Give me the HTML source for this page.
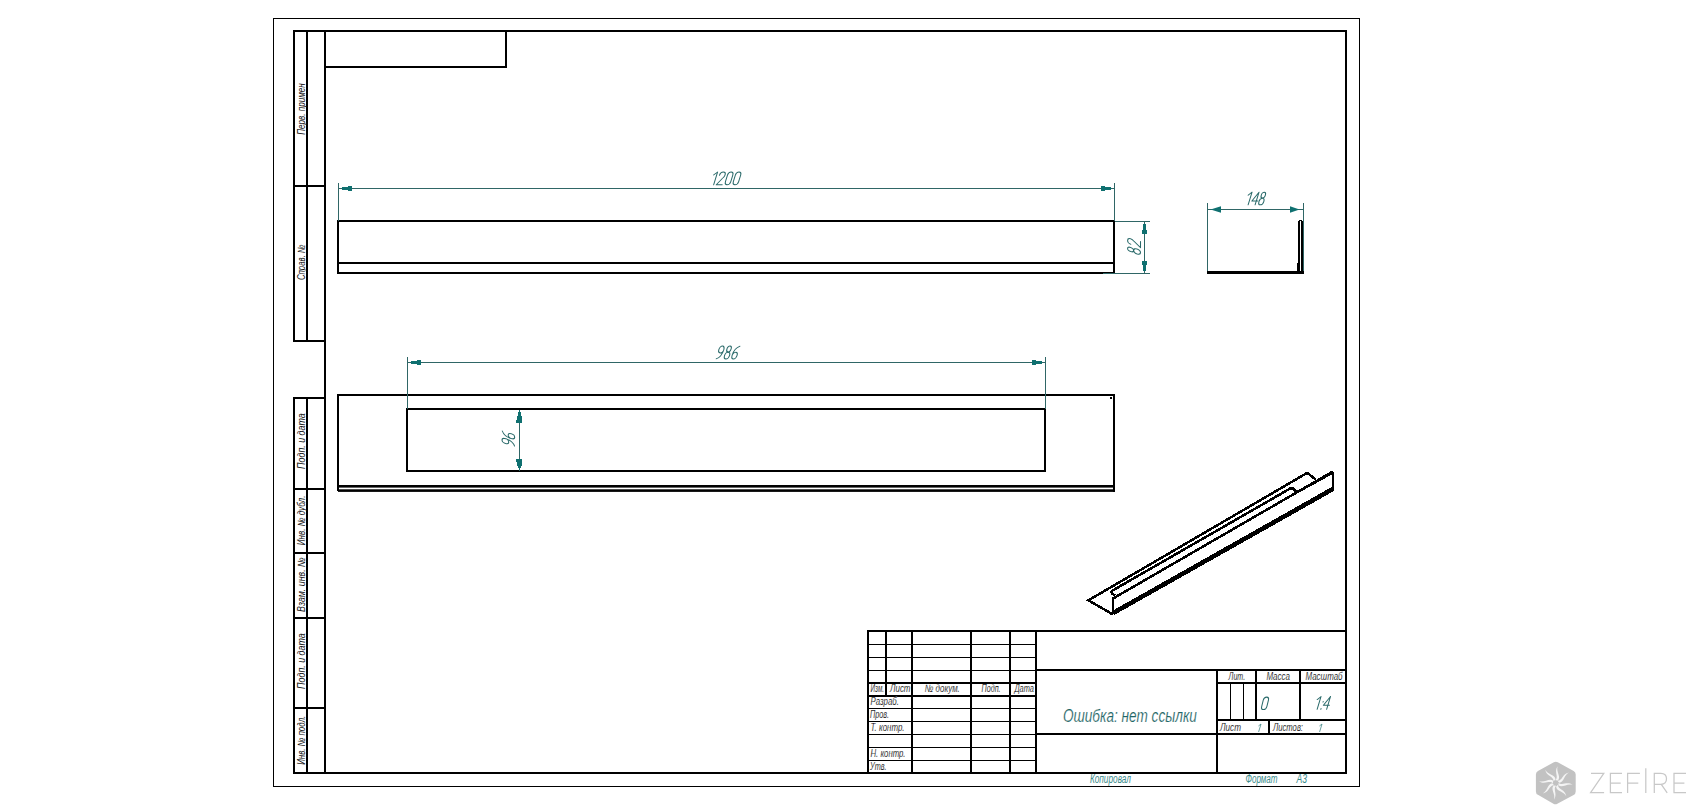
<!DOCTYPE html>
<html><head><meta charset="utf-8"><style>
html,body{margin:0;padding:0;background:#fff;width:1691px;height:810px;overflow:hidden}
svg{display:block}
text{font-family:"Liberation Sans",sans-serif;font-style:italic;stroke:#fff;stroke-width:0.15px}
text.r{stroke:none;fill:#111}
text.s{stroke:none}
</style></head><body>
<svg width="1691" height="810" viewBox="0 0 1691 810">
<g shape-rendering="crispEdges">
<rect x="273" y="18" width="1087" height="1" fill="#000"/>
<rect x="273" y="786" width="1087" height="1" fill="#000"/>
<rect x="273" y="18" width="1" height="769" fill="#000"/>
<rect x="1359" y="18" width="1" height="769" fill="#000"/>
<rect x="293" y="30" width="1054" height="2" fill="#000"/>
<rect x="293" y="772" width="1054" height="2" fill="#000"/>
<rect x="324" y="30" width="2" height="744" fill="#000"/>
<rect x="1345" y="30" width="2" height="744" fill="#000"/>
<rect x="293" y="30" width="2" height="312" fill="#000"/>
<rect x="306" y="30" width="2" height="312" fill="#000"/>
<rect x="293" y="185" width="33" height="2" fill="#000"/>
<rect x="293" y="340" width="33" height="2" fill="#000"/>
<rect x="293" y="397" width="2" height="377" fill="#000"/>
<rect x="306" y="397" width="2" height="377" fill="#000"/>
<rect x="293" y="397" width="33" height="2" fill="#000"/>
<rect x="293" y="488" width="33" height="2" fill="#000"/>
<rect x="293" y="552" width="33" height="2" fill="#000"/>
<rect x="293" y="617" width="33" height="2" fill="#000"/>
<rect x="293" y="707" width="33" height="2" fill="#000"/>
<rect x="505" y="30" width="2" height="38" fill="#000"/>
<rect x="324" y="66" width="183" height="2" fill="#000"/>
<rect x="337" y="220" width="778" height="2" fill="#000"/>
<rect x="337" y="262" width="778" height="2" fill="#000"/>
<rect x="337" y="272" width="778" height="2" fill="#000"/>
<rect x="337" y="220" width="2" height="54" fill="#000"/>
<rect x="1113" y="220" width="2" height="54" fill="#000"/>
<rect x="338" y="183" width="1" height="38" fill="#2f6666"/>
<rect x="1114" y="183" width="1" height="38" fill="#2f6666"/>
<rect x="338" y="188" width="777" height="1" fill="#2f6666"/>
<rect x="342" y="187" width="6" height="3" fill="#0f7070"/>
<rect x="348" y="186" width="4" height="5" fill="#0f7070"/>
<rect x="1105" y="187" width="6" height="3" fill="#0f7070"/>
<rect x="1101" y="186" width="4" height="5" fill="#0f7070"/>
<rect x="1115" y="221" width="35" height="1" fill="#2f6666"/>
<rect x="1103" y="273" width="47" height="1" fill="#2f6666"/>
<rect x="1144" y="221" width="1" height="53" fill="#2f6666"/>
<rect x="1143" y="224" width="3" height="6" fill="#0f7070"/>
<rect x="1142" y="230" width="5" height="4" fill="#0f7070"/>
<rect x="1142" y="261" width="5" height="4" fill="#0f7070"/>
<rect x="1143" y="265" width="3" height="6" fill="#0f7070"/>
<rect x="1207" y="203" width="1" height="70" fill="#2f6666"/>
<rect x="1303" y="203" width="1" height="71" fill="#2f6666"/>
<rect x="1207" y="209" width="97" height="1" fill="#2f6666"/>
<polygon points="1210.5,209.5 1221,206.2 1221,212.8" fill="#0f7070" shape-rendering="geometricPrecision"/><polygon points="1299.5,209.5 1290,206.2 1290,212.8" fill="#0f7070" shape-rendering="geometricPrecision"/>
<rect x="1207" y="271" width="97" height="3" fill="#000"/>
<rect x="1298" y="221" width="2" height="53" fill="#000"/>
<rect x="1301" y="221" width="2" height="53" fill="#000"/>
<rect x="1299" y="220" width="3" height="1" fill="#000"/>
<rect x="1297" y="263" width="3" height="11" fill="#000"/>
<rect x="337" y="394" width="778" height="2" fill="#000"/>
<rect x="337" y="394" width="2" height="97" fill="#000"/>
<rect x="1113" y="394" width="2" height="98" fill="#000"/>
<rect x="337" y="485" width="777" height="2.6" shape-rendering="geometricPrecision"/><rect x="338" y="489.3" width="777" height="2.6" shape-rendering="geometricPrecision"/>
<rect x="406" y="408" width="640" height="2" fill="#000"/>
<rect x="406" y="470" width="640" height="2" fill="#000"/>
<rect x="406" y="408" width="2" height="64" fill="#000"/>
<rect x="1044" y="408" width="2" height="64" fill="#000"/>
<rect x="1110" y="397" width="2" height="2" fill="#000"/>
<rect x="407" y="357" width="1" height="52" fill="#2f6666"/>
<rect x="1045" y="357" width="1" height="52" fill="#2f6666"/>
<rect x="407" y="362" width="639" height="1" fill="#2f6666"/>
<rect x="411" y="361" width="6" height="3" fill="#0f7070"/>
<rect x="417" y="360" width="4" height="5" fill="#0f7070"/>
<rect x="1036" y="361" width="6" height="3" fill="#0f7070"/>
<rect x="1032" y="360" width="4" height="5" fill="#0f7070"/>
<rect x="519" y="410" width="1" height="61" fill="#2f6666"/>
<rect x="519" y="410" width="1" height="2" fill="#0f7070"/>
<rect x="518" y="412" width="3" height="4" fill="#0f7070"/>
<rect x="517" y="416" width="5" height="4" fill="#0f7070"/>
<rect x="516" y="420" width="6" height="3" fill="#0f7070"/>
<rect x="516" y="459" width="6" height="3" fill="#0f7070"/>
<rect x="517" y="462" width="5" height="4" fill="#0f7070"/>
<rect x="518" y="466" width="3" height="2" fill="#0f7070"/>
<rect x="519" y="468" width="1" height="2" fill="#0f7070"/>
<rect x="867" y="630" width="479" height="2" fill="#000"/>
<rect x="867" y="630" width="2" height="143" fill="#000"/>
<rect x="911" y="630" width="2" height="143" fill="#000"/>
<rect x="970" y="630" width="2" height="143" fill="#000"/>
<rect x="1009" y="630" width="2" height="143" fill="#000"/>
<rect x="1035" y="630" width="2" height="143" fill="#000"/>
<rect x="885" y="630" width="2" height="66" fill="#000"/>
<rect x="867" y="682" width="170" height="2" fill="#000"/>
<rect x="867" y="695" width="170" height="2" fill="#000"/>
<rect x="867" y="644" width="170" height="1" fill="#000"/>
<rect x="867" y="657" width="170" height="1" fill="#000"/>
<rect x="867" y="670" width="170" height="1" fill="#000"/>
<rect x="867" y="708" width="170" height="1" fill="#000"/>
<rect x="867" y="721" width="170" height="1" fill="#000"/>
<rect x="867" y="734" width="170" height="1" fill="#000"/>
<rect x="867" y="747" width="170" height="1" fill="#000"/>
<rect x="867" y="760" width="170" height="1" fill="#000"/>
<rect x="1036" y="669" width="310" height="2" fill="#000"/>
<rect x="1036" y="733" width="310" height="2" fill="#000"/>
<rect x="1216" y="669" width="2" height="104" fill="#000"/>
<rect x="1217" y="682" width="129" height="2" fill="#000"/>
<rect x="1217" y="719" width="129" height="2" fill="#000"/>
<rect x="1230" y="683" width="1" height="37" fill="#000"/>
<rect x="1243" y="683" width="1" height="37" fill="#000"/>
<rect x="1255" y="669" width="2" height="51" fill="#000"/>
<rect x="1299" y="669" width="2" height="51" fill="#000"/>
<rect x="1268" y="719" width="2" height="15" fill="#000"/>
</g>

<g fill="none" stroke="#000" stroke-width="2.5" stroke-linejoin="miter" shape-rendering="crispEdges">
<polyline points="1112.8,614.4 1088.4,600.3 1305.8,473.7 1308.4,473.7 1315.75,479.7"/>
<polyline points="1112.8,614.4 1112.8,598.5 1114.8,597.5 1331.7,472.2 1333,472.8 1333,490.1"/>
<polyline points="1115.5,595.3 1112.6,594.2 1111.6,592 1112.4,590.6 1290.4,488.4 1293,488.4 1296,491.6"/>
<polyline points="1296,492.8 1331.7,473.2"/>
</g>
<line x1="1112.8" y1="613.2" x2="1333" y2="488.9" stroke="#000" stroke-width="4.6" shape-rendering="crispEdges"/>

<g transform="translate(712.5,184.8) skewX(-17) scale(0.9846) translate(0,-13)" fill="none" stroke="#2a6a6a" stroke-width="1.066" stroke-linecap="round" stroke-linejoin="round"><path transform="translate(0.00,0)" d="M-1.8,3 L1.2,0 L1.2,13"/><path transform="translate(3.80,0)" d="M0.3,3.2 C0.3,1.2 1.5,0 3.1,0 C4.8,0 5.9,1.2 5.9,3 C5.9,4.6 5.2,5.6 4.2,6.6 L0,13 L6,13"/><path transform="translate(12.20,0)" d="M2.7,0 C0.9,0 0,1.3 0,3.3 L0,9.7 C0,11.7 0.9,13 2.7,13 C4.5,13 5.4,11.7 5.4,9.7 L5.4,3.3 C5.4,1.3 4.5,0 2.7,0 Z"/><path transform="translate(20.20,0)" d="M2.7,0 C0.9,0 0,1.3 0,3.3 L0,9.7 C0,11.7 0.9,13 2.7,13 C4.5,13 5.4,11.7 5.4,9.7 L5.4,3.3 C5.4,1.3 4.5,0 2.7,0 Z"/></g>
<g transform="translate(1247,204.8) skewX(-17) scale(0.9692) translate(0,-13)" fill="none" stroke="#2a6a6a" stroke-width="1.083" stroke-linecap="round" stroke-linejoin="round"><path transform="translate(0.00,0)" d="M-1.8,3 L1.2,0 L1.2,13"/><path transform="translate(3.80,0)" d="M4.6,0 L0,9 L6.2,9 M4.6,0 L4.6,13"/><path transform="translate(11.30,0)" d="M2.5,0 C1.1,0 0.4,1.3 0.4,3.1 C0.4,4.9 1.3,6.1 2.5,6.1 C3.7,6.1 4.6,4.9 4.6,3.1 C4.6,1.3 3.9,0 2.5,0 Z M2.5,6.1 C0.9,6.1 0,7.5 0,9.5 C0,11.6 0.9,13 2.5,13 C4.1,13 5,11.6 5,9.5 C5,7.5 4.1,6.1 2.5,6.1 Z"/></g>
<g transform="translate(716,359) skewX(-17) scale(1.0000) translate(0,-13)" fill="none" stroke="#2a6a6a" stroke-width="1.050" stroke-linecap="round" stroke-linejoin="round"><path transform="translate(0.00,0)" d="M5,4 C5,1.6 4,0 2.5,0 C1,0 0,1.5 0,3.6 C0,5.6 1,6.9 2.4,6.9 C3.7,6.9 4.6,6 5,4.6 C5,8.4 2.8,12.2 0.2,12.8"/><path transform="translate(7.50,0)" d="M2.5,0 C1.1,0 0.4,1.3 0.4,3.1 C0.4,4.9 1.3,6.1 2.5,6.1 C3.7,6.1 4.6,4.9 4.6,3.1 C4.6,1.3 3.9,0 2.5,0 Z M2.5,6.1 C0.9,6.1 0,7.5 0,9.5 C0,11.6 0.9,13 2.5,13 C4.1,13 5,11.6 5,9.5 C5,7.5 4.1,6.1 2.5,6.1 Z"/><path transform="translate(15.00,0)" d="M5,0.3 C2.3,1.4 0,5 0,9.2 C0,11.6 1,13 2.5,13 C4,13 5,11.6 5,9.6 C5,7.6 4,6.3 2.6,6.3 C1.4,6.3 0.5,7.2 0.1,8.6"/></g>
<g transform="translate(1140.5,255) rotate(-90) skewX(-17) scale(0.9923) translate(0,-13)" fill="none" stroke="#2a6a6a" stroke-width="1.058" stroke-linecap="round" stroke-linejoin="round"><path transform="translate(0.00,0)" d="M2.5,0 C1.1,0 0.4,1.3 0.4,3.1 C0.4,4.9 1.3,6.1 2.5,6.1 C3.7,6.1 4.6,4.9 4.6,3.1 C4.6,1.3 3.9,0 2.5,0 Z M2.5,6.1 C0.9,6.1 0,7.5 0,9.5 C0,11.6 0.9,13 2.5,13 C4.1,13 5,11.6 5,9.5 C5,7.5 4.1,6.1 2.5,6.1 Z"/><path transform="translate(7.50,0)" d="M0.3,3.2 C0.3,1.2 1.5,0 3.1,0 C4.8,0 5.9,1.2 5.9,3 C5.9,4.6 5.2,5.6 4.2,6.6 L0,13 L6,13"/></g>
<g transform="translate(514.7,446.3) rotate(-90) skewX(-17) scale(0.9769) translate(0,-13)" fill="none" stroke="#2a6a6a" stroke-width="1.075" stroke-linecap="round" stroke-linejoin="round"><path transform="translate(0.00,0)" d="M5,4 C5,1.6 4,0 2.5,0 C1,0 0,1.5 0,3.6 C0,5.6 1,6.9 2.4,6.9 C3.7,6.9 4.6,6 5,4.6 C5,8.4 2.8,12.2 0.2,12.8"/><path transform="translate(6.80,0)" d="M5,0.3 C2.3,1.4 0,5 0,9.2 C0,11.6 1,13 2.5,13 C4,13 5,11.6 5,9.6 C5,7.6 4,6.3 2.6,6.3 C1.4,6.3 0.5,7.2 0.1,8.6"/></g>
<text transform="translate(304.8,134.8) rotate(-90)" x="0" y="0" font-size="10.5" fill="#000" textLength="51.4" lengthAdjust="spacingAndGlyphs" text-anchor="start" class="r">Перв. примен</text>
<text transform="translate(304.8,280.1) rotate(-90)" x="0" y="0" font-size="10.5" fill="#000" textLength="35.6" lengthAdjust="spacingAndGlyphs" text-anchor="start" class="r">Справ. №</text>
<text transform="translate(304.8,468.9) rotate(-90)" x="0" y="0" font-size="10.5" fill="#000" textLength="55.6" lengthAdjust="spacingAndGlyphs" text-anchor="start" class="r">Подп. и дата</text>
<text transform="translate(304.8,545.2) rotate(-90)" x="0" y="0" font-size="10.5" fill="#000" textLength="49.6" lengthAdjust="spacingAndGlyphs" text-anchor="start" class="r">Инв. № дубл.</text>
<text transform="translate(304.8,612) rotate(-90)" x="0" y="0" font-size="10.5" fill="#000" textLength="54.6" lengthAdjust="spacingAndGlyphs" text-anchor="start" class="r">Взам. инв. №</text>
<text transform="translate(304.8,688.9) rotate(-90)" x="0" y="0" font-size="10.5" fill="#000" textLength="55.6" lengthAdjust="spacingAndGlyphs" text-anchor="start" class="r">Подп. и дата</text>
<text transform="translate(304.8,764.8) rotate(-90)" x="0" y="0" font-size="10.5" fill="#000" textLength="49.1" lengthAdjust="spacingAndGlyphs" text-anchor="start" class="r">Инв. № подл.</text>
<text x="870.5" y="692.3" font-size="10.5" fill="#000" textLength="13.5" lengthAdjust="spacingAndGlyphs" text-anchor="start" >Изм.</text>
<text x="890" y="692.3" font-size="10.5" fill="#000" textLength="20.5" lengthAdjust="spacingAndGlyphs" text-anchor="start" >Лист</text>
<text x="924.8" y="692.3" font-size="10.5" fill="#000" textLength="35" lengthAdjust="spacingAndGlyphs" text-anchor="start" >№ докум.</text>
<text x="981.6" y="692.3" font-size="10.5" fill="#000" textLength="19" lengthAdjust="spacingAndGlyphs" text-anchor="start" >Подп.</text>
<text x="1014.4" y="692.3" font-size="10.5" fill="#000" textLength="19.5" lengthAdjust="spacingAndGlyphs" text-anchor="start" >Дата</text>
<text x="870.5" y="705.3" font-size="10.5" fill="#000" textLength="28.4" lengthAdjust="spacingAndGlyphs" text-anchor="start" >Разраб.</text>
<text x="870" y="718.2" font-size="10.5" fill="#000" textLength="19" lengthAdjust="spacingAndGlyphs" text-anchor="start" >Пров.</text>
<text x="870.5" y="731.2" font-size="10.5" fill="#000" textLength="34" lengthAdjust="spacingAndGlyphs" text-anchor="start" >Т. контр.</text>
<text x="870.5" y="757.1" font-size="10.5" fill="#000" textLength="35" lengthAdjust="spacingAndGlyphs" text-anchor="start" >Н. контр.</text>
<text x="870" y="770" font-size="10.5" fill="#000" textLength="16.5" lengthAdjust="spacingAndGlyphs" text-anchor="start" >Утв.</text>
<text x="1228.6" y="680.2" font-size="10.5" fill="#000" textLength="16.5" lengthAdjust="spacingAndGlyphs" text-anchor="start" >Лит.</text>
<text x="1266.4" y="680.2" font-size="10.5" fill="#000" textLength="23.5" lengthAdjust="spacingAndGlyphs" text-anchor="start" >Масса</text>
<text x="1305.5" y="680.2" font-size="10.5" fill="#000" textLength="37" lengthAdjust="spacingAndGlyphs" text-anchor="start" >Масштаб</text>
<text x="1220" y="731" font-size="10.5" fill="#000" textLength="21" lengthAdjust="spacingAndGlyphs" text-anchor="start" >Лист</text>
<text x="1273" y="731" font-size="10.5" fill="#000" textLength="30" lengthAdjust="spacingAndGlyphs" text-anchor="start" >Листов:</text>
<g transform="translate(1258,731.6) skewX(-17) scale(0.5846) translate(0,-13)" fill="none" stroke="#3a8080" stroke-width="1.197" stroke-linecap="round" stroke-linejoin="round"><path transform="translate(0.00,0)" d="M-1.8,3 L1.2,0 L1.2,13"/></g>
<g transform="translate(1319,731.6) skewX(-17) scale(0.5846) translate(0,-13)" fill="none" stroke="#3a8080" stroke-width="1.197" stroke-linecap="round" stroke-linejoin="round"><path transform="translate(0.00,0)" d="M-1.8,3 L1.2,0 L1.2,13"/></g>
<g transform="translate(1260.9,709.6) skewX(-14) scale(0.9615) translate(0,-13)" fill="none" stroke="#2a6a6a" stroke-width="1.092" stroke-linecap="round" stroke-linejoin="round"><path transform="translate(0.00,0)" d="M2.7,0 C0.9,0 0,1.3 0,3.3 L0,9.7 C0,11.7 0.9,13 2.7,13 C4.5,13 5.4,11.7 5.4,9.7 L5.4,3.3 C5.4,1.3 4.5,0 2.7,0 Z"/></g>
<g transform="translate(1316,709.2) skewX(-17) scale(0.9692) translate(0,-13)" fill="none" stroke="#2a6a6a" stroke-width="1.083" stroke-linecap="round" stroke-linejoin="round"><path transform="translate(0.00,0)" d="M-1.8,3 L1.2,0 L1.2,13"/><path transform="translate(3.80,0)" d="M1.2,5 L1.2,5.6 M1.2,12.4 L1.2,13"/><path transform="translate(6.40,0)" d="M4.6,0 L0,9 L6.2,9 M4.6,0 L4.6,13"/></g>
<text x="1062.9" y="722" font-size="17.5" fill="#1f6666" textLength="134" lengthAdjust="spacingAndGlyphs" text-anchor="start" class="t">Ошибка: нет ссылки</text>
<text x="1089.9" y="783" font-size="12.3" fill="#3a8a8a" textLength="41" lengthAdjust="spacingAndGlyphs" text-anchor="start" class="s">Копировал</text>
<text x="1245.5" y="783" font-size="12.3" fill="#3a8a8a" textLength="32" lengthAdjust="spacingAndGlyphs" text-anchor="start" class="s">Формат</text>
<text x="1296.5" y="783" font-size="12.3" fill="#3a8a8a" textLength="10.5" lengthAdjust="spacingAndGlyphs" text-anchor="start" class="s">А3</text>

<g transform="translate(1555.8,783)">
<polygon points="0,-17.3 15.9,-8.4 15.9,8.4 -0.4,17.3 -15.9,8.4 -15.9,-8.4" fill="#c2c2c2" stroke="#c2c2c2" stroke-width="8" stroke-linejoin="round"/>
<g fill="#f4f4f4">
<path d="M-0.6,-2.8 C2.8,-6.5 -3.2,-11 0.4,-16.8 C-1,-11 5,-7 2,-2.8 Z" transform="rotate(5)"/>
<path d="M-0.6,-2.8 C2.8,-6.5 -3.2,-11 0.4,-16.8 C-1,-11 5,-7 2,-2.8 Z" transform="rotate(50)"/>
<path d="M-0.6,-2.8 C2.8,-6.5 -3.2,-11 0.4,-16.8 C-1,-11 5,-7 2,-2.8 Z" transform="rotate(95)"/>
<path d="M-0.6,-2.8 C2.8,-6.5 -3.2,-11 0.4,-16.8 C-1,-11 5,-7 2,-2.8 Z" transform="rotate(140)"/>
<path d="M-0.6,-2.8 C2.8,-6.5 -3.2,-11 0.4,-16.8 C-1,-11 5,-7 2,-2.8 Z" transform="rotate(185)"/>
<path d="M-0.6,-2.8 C2.8,-6.5 -3.2,-11 0.4,-16.8 C-1,-11 5,-7 2,-2.8 Z" transform="rotate(230)"/>
<path d="M-0.6,-2.8 C2.8,-6.5 -3.2,-11 0.4,-16.8 C-1,-11 5,-7 2,-2.8 Z" transform="rotate(275)"/>
<path d="M-0.6,-2.8 C2.8,-6.5 -3.2,-11 0.4,-16.8 C-1,-11 5,-7 2,-2.8 Z" transform="rotate(320)"/>
</g>
</g>
<g fill="none" stroke="#c8c8c8" stroke-width="1.25" stroke-linecap="butt" stroke-linejoin="miter">
<path d="M1591,773.3 L1603.8,773.3 L1590.6,792.7 L1604.1,792.7"/>
<path d="M1622,773.3 L1610.4,773.3 L1610.4,792.7 L1622,792.7 M1610.4,783 L1620.7,783"/>
<path d="M1639.9,773.3 L1627.6,773.3 L1627.6,792.9 M1627.6,783 L1638.3,783"/>
<path d="M1645.8,768.3 L1645.8,792.9"/>
<path d="M1654.3,792.9 L1654.3,773.3 L1660.8,773.3 C1664.6,773.3 1666.5,775.6 1666.5,778.8 C1666.5,782 1664.6,784.3 1660.8,784.3 L1654.3,784.3 M1661.3,784.3 L1667.2,792.9"/>
<path d="M1686,773.3 L1674,773.3 L1674,792.7 L1686,792.7 M1674,783 L1684.4,783"/>
</g>

</svg>
</body></html>
